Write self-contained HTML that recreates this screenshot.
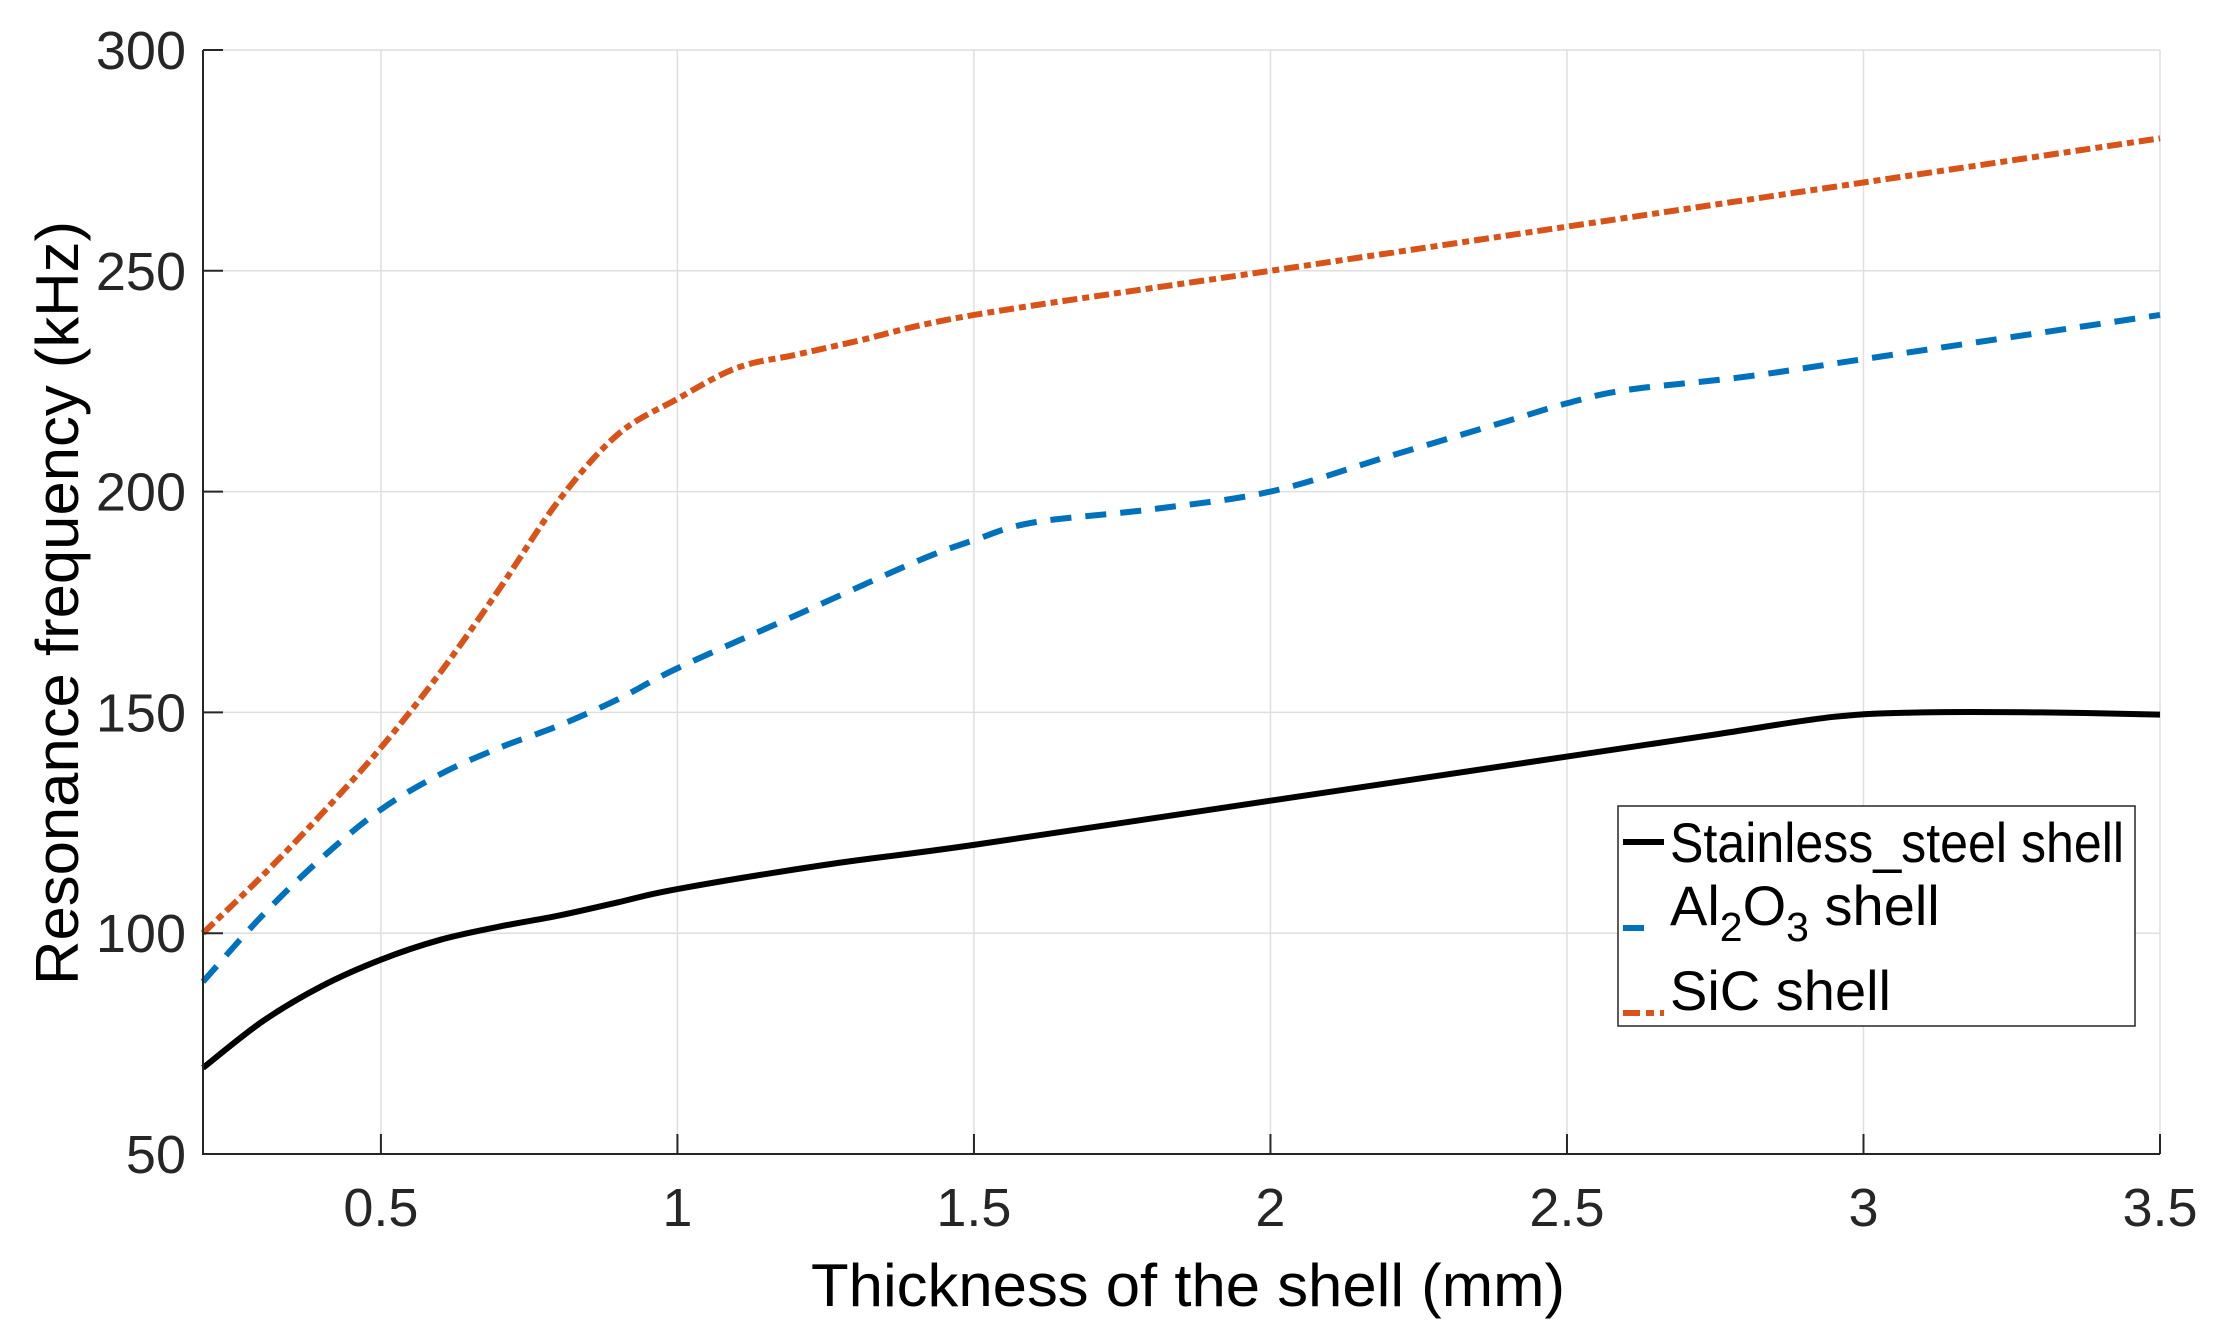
<!DOCTYPE html>
<html><head><meta charset="utf-8"><style>
html,body{margin:0;padding:0;background:#fff}
svg{display:block;font-family:"Liberation Sans",Arial,sans-serif}
</style></head><body>
<svg id="chart" width="2227" height="1341" viewBox="0 0 2227 1341" xmlns="http://www.w3.org/2000/svg">
<rect width="2227" height="1341" fill="#fff"/>
<g id="grid"></g>
<g id="series"></g>
<g id="axes"></g>
<text x="1188" y="1306" font-size="60" text-anchor="middle" textLength="754" lengthAdjust="spacingAndGlyphs" fill="#000">Thickness of the shell (mm)</text>
<text transform="translate(78,603) rotate(-90)" font-size="60" text-anchor="middle" textLength="764" lengthAdjust="spacingAndGlyphs" fill="#000">Resonance frequency (kHz)</text>
<g>
<rect x="1618" y="806" width="517" height="220" fill="#fff" stroke="#262626" stroke-width="1.5"/>
<line x1="1623" y1="842" x2="1664" y2="842" stroke="#000" stroke-width="6"/>
<text x="1670" y="862" font-size="56" textLength="454" lengthAdjust="spacingAndGlyphs" fill="#000">Stainless_steel shell</text>
<line x1="1623" y1="928" x2="1644" y2="928" stroke="#0072BD" stroke-width="6"/>
<text x="1670" y="925" font-size="56" fill="#000">Al<tspan font-size="41" dy="16">2</tspan><tspan dy="-16">O</tspan><tspan font-size="41" dy="16">3</tspan><tspan dy="-16"> shell</tspan></text>
<line x1="1623" y1="1013" x2="1664" y2="1013" stroke="#D95319" stroke-width="6" stroke-dasharray="17 6 8 6"/>
<text x="1670" y="1010" font-size="56" fill="#000">SiC shell</text>
</g>
</svg>
<script>
const xTicks=[0.5,1,1.5,2,2.5,3,3.5];
const xTickLabels=["0.5","1","1.5","2","2.5","3","3.5"];
const yTicks=[50,100,150,200,250,300];
const yTickLabels=["50","100","150","200","250","300"];
const steelX=[0.2,0.3,0.4,0.5,0.6,0.7,0.8,0.9,1.0,1.25,1.5,2.0,2.5,2.75,2.95,3.1,3.3,3.5];
const steelY=[69.5,80,88,94,98.5,101.5,104,107,110,115.5,120,130,140,145,149,150,150,149.5];
const alX=[0.2,0.3,0.4,0.5,0.6,0.7,0.8,0.9,1.0,1.2,1.4,1.5,1.6,1.8,2.0,2.2,2.4,2.5,2.6,2.8,3.0,3.5];
const alY=[89,104,117,128,136,142,147,153,160,172,184,189,193,196,200,208,216,220,223,226,230,240];
const sicX=[0.2,0.3,0.4,0.5,0.6,0.7,0.8,0.9,1.0,1.1,1.2,1.3,1.5,2.0,2.5,3.0,3.5];
const sicY=[100,113,127,142,159,178,198,213,221,228,231,234,240,250,260,270,280];

const L=203,R=2160,T=50,B=1154,xMin=0.2,xMax=3.5,yMin=50,yMax=300;
const sx=v=>L+(v-xMin)/(xMax-xMin)*(R-L);
const sy=v=>B-(v-yMin)/(yMax-yMin)*(B-T);
const NS="http://www.w3.org/2000/svg";
function mk(tag,attrs,parent){const e=document.createElementNS(NS,tag);for(const k in attrs)e.setAttribute(k,attrs[k]);parent.appendChild(e);return e;}
const grid=document.getElementById('grid'),axes=document.getElementById('axes'),ser=document.getElementById('series');
xTicks.forEach((t,i)=>{
  const g=mk('line',{x1:sx(t),x2:sx(t),y1:T,y2:B,stroke:'#dfdfdf','stroke-width':1.5},grid);
  
  
  const tk=mk('line',{x1:sx(t),x2:sx(t),y1:B,y2:B-20,stroke:'#262626','stroke-width':2},axes);
  
  
  const tx=mk('text',{x:sx(t),y:1226,'font-size':54,'text-anchor':'middle',fill:'#262626'},axes);
  tx.textContent=xTickLabels[i];
  
  
});
yTicks.forEach((t,i)=>{
  const g=mk('line',{x1:L,x2:R,y1:sy(t),y2:sy(t),stroke:'#dfdfdf','stroke-width':1.5},grid);
  
  
  const tk=mk('line',{x1:L,x2:L+20,y1:sy(t),y2:sy(t),stroke:'#262626','stroke-width':2},axes);
  
  
  const tx=mk('text',{x:186,y:sy(t)+19,'font-size':54,'text-anchor':'end',fill:'#262626'},axes);
  tx.textContent=yTickLabels[i];
  
  
});
const ax=mk('path',{d:`M${L},${T}V${B}H${R}`,fill:'none',stroke:'#262626','stroke-width':2},axes);


function smooth(xs,ys){
  const p=xs.map((x,i)=>[sx(x),sy(ys[i])]);
  let d=`M${p[0][0]},${p[0][1]}`;
  for(let i=0;i<p.length-1;i++){
    const p0=p[Math.max(0,i-1)],p1=p[i],p2=p[i+1],p3=p[Math.min(p.length-1,i+2)];
    const c1=[p1[0]+(p2[0]-p0[0])/6,p1[1]+(p2[1]-p0[1])/6];
    const c2=[p2[0]-(p3[0]-p1[0])/6,p2[1]-(p3[1]-p1[1])/6];
    d+=`C${c1[0]},${c1[1]} ${c2[0]},${c2[1]} ${p2[0]},${p2[1]}`;
  }
  return d;
}
const s1=mk('path',{d:smooth(steelX,steelY),fill:'none',stroke:'#000','stroke-width':6},ser);


const s2=mk('path',{d:smooth(alX,alY),fill:'none',stroke:'#0072BD','stroke-width':6,'stroke-dasharray':'21 14'},ser);


const s3=mk('path',{d:smooth(sicX,sicY),fill:'none',stroke:'#D95319','stroke-width':6,'stroke-dasharray':'15 5 7 5'},ser);


</script>
</body></html>
